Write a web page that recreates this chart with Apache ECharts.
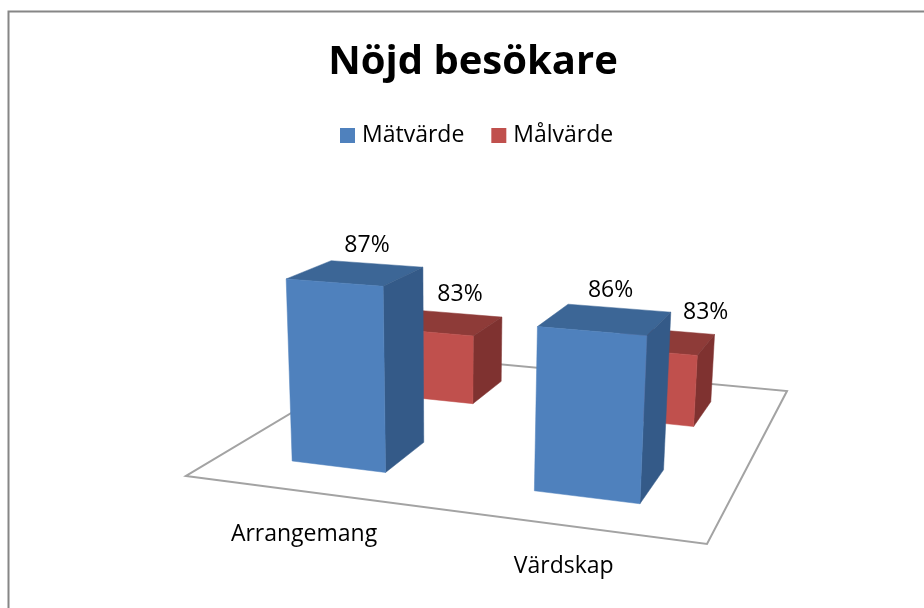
<!DOCTYPE html>
<html>
<head>
<meta charset="utf-8">
<title>Nöjd besökare</title>
<script src="https://cdn.jsdelivr.net/npm/echarts@6/dist/echarts.min.js"></script>
<style>
html,body{margin:0;padding:0;background:#fff}
#main{width:924px;height:608px}
</style>
</head>
<body>
<div id="main"></div>
<script>
const categories = ['Arrangemang', 'Värdskap'];
const matvarde = [0.87, 0.86];
const malvarde = [0.83, 0.83];
const axisMin = 0.8;
const axisMax = 0.9;

const fontName = '"Open Sans", sans-serif';

// floor corners on screen: front left, front right, back right, back left
const floor = [[186, 476], [707, 544], [787, 391], [390, 354]];
// where vertical edges meet, and how much one full axis height counts
const vanish = [447, 5170];
const rise = -0.0549;

// square to quad
function makeProjection(q) {
    const dx1 = q[1][0] - q[2][0], dx2 = q[3][0] - q[2][0], sx = q[0][0] - q[1][0] + q[2][0] - q[3][0];
    const dy1 = q[1][1] - q[2][1], dy2 = q[3][1] - q[2][1], sy = q[0][1] - q[1][1] + q[2][1] - q[3][1];
    const det = dx1 * dy2 - dx2 * dy1;
    const g = (sx * dy2 - dx2 * sy) / det;
    const h = (dx1 * sy - sx * dy1) / det;
    const a = q[1][0] - q[0][0] + g * q[1][0];
    const b = q[3][0] - q[0][0] + h * q[3][0];
    const d = q[1][1] - q[0][1] + g * q[1][1];
    const e = q[3][1] - q[0][1] + h * q[3][1];
    return function (u, v, up) {
        const k = rise * up;
        const w = g * u + h * v + 1 + k;
        return [
            (a * u + b * v + q[0][0] + k * vanish[0]) / w,
            (d * u + e * v + q[0][1] + k * vanish[1]) / w
        ];
    };
}
const project = makeProjection(floor);

// grid position -> share of the floor width / of the axis height
function toFloor(params, pt) {
    const cs = params.coordSys;
    return [(pt[0] - cs.x) / cs.width, (cs.y + cs.height - pt[1]) / cs.height];
}

function barRender(depth, colors, nudge) {
    return function (params, api) {
        const val = api.value(1);
        const p = toFloor(params, api.coord([api.value(0), val]));
        const half = api.size([1, 0])[0] / params.coordSys.width * 0.4 / 2;
        const u0 = p[0] - half, u1 = p[0] + half;
        const v0 = depth - 0.1, v1 = depth + 0.1;
        const up = p[1];
        const poly = function (pts, fill) {
            return {
                type: 'polygon',
                shape: { points: pts.map(function (o) { return project(o[0], o[1], o[2]); }) },
                style: { fill: fill, stroke: fill, lineWidth: 0.5 }
            };
        };
        const top = project(p[0], depth, up);
        const off = nudge[params.dataIndex];
        return {
            type: 'group',
            children: [
                poly([[u0, v0, up], [u1, v0, up], [u1, v1, up], [u0, v1, up]], colors.top),
                poly([[u1, v0, 0], [u1, v1, 0], [u1, v1, up], [u1, v0, up]], colors.side),
                poly([[u0, v0, 0], [u1, v0, 0], [u1, v0, up], [u0, v0, up]], colors.front),
                {
                    type: 'text',
                    style: {
                        text: Math.round(val * 100) + '%',
                        x: top[0] + off[0],
                        y: top[1] + off[1],
                        align: 'center',
                        verticalAlign: 'middle',
                        fill: '#000',
                        font: '23px ' + fontName
                    }
                }
            ]
        };
    };
}

const catLabelDrop = [43, 41];

function floorRender(params, api) {
    const p = toFloor(params, api.coord([api.value(0), axisMin]));
    const at = project(p[0], 0, 0);
    const children = [{
        type: 'text',
        style: {
            text: categories[params.dataIndex],
            x: at[0],
            y: at[1] + catLabelDrop[params.dataIndex],
            align: 'center',
            verticalAlign: 'middle',
            fill: '#000',
            font: '23px ' + fontName
        }
    }];
    if (params.dataIndex === 0) {
        children.unshift({
            type: 'polygon',
            shape: { points: [project(0, 0, 0), project(1, 0, 0), project(1, 1, 0), project(0, 1, 0)] },
            style: { fill: '#fff', stroke: '#a3a3a3', lineWidth: 2 }
        });
    }
    return { type: 'group', children: children };
}

const myChart = echarts.init(document.getElementById('main'));

const option = {
    animation: false,
    backgroundColor: '#fff',
    graphic: [{
        type: 'rect',
        silent: true,
        z: -1,
        shape: { x: 8.5, y: 11.5, width: 1000, height: 1000 },
        style: { fill: 'none', stroke: '#868686', lineWidth: 2 }
    }],
    title: {
        text: 'Nöjd besökare',
        left: 468,
        top: 38,
        textAlign: 'center',
        textStyle: { fontFamily: fontName, fontSize: 40, fontWeight: 'bold', color: '#000' }
    },
    legend: {
        data: ['Mätvärde', 'Målvärde'],
        left: 335,
        top: 119,
        icon: 'rect',
        itemWidth: 15,
        itemHeight: 15,
        itemGap: 27,
        textStyle: { fontFamily: fontName, fontSize: 23, color: '#000', padding: [0, 0, 0, 2] }
    },
    grid: { left: 186, top: 100, width: 520, height: 370 },
    xAxis: { type: 'category', data: categories, show: false },
    yAxis: { type: 'value', min: axisMin, max: axisMax, show: false },
    series: [
        {
            name: 'golv',
            type: 'custom',
            z: 1,
            silent: true,
            renderItem: floorRender,
            data: categories.map(function (c, i) { return [i, axisMin]; })
        },
        {
            name: 'Mätvärde',
            type: 'custom',
            z: 3,
            itemStyle: { color: '#4f81bd' },
            renderItem: barRender(0.25, { front: '#4f81bd', side: '#345a88', top: '#3c6696' }, [[11, -27], [5, -29]]),
            data: matvarde.map(function (v, i) { return [i, v]; })
        },
        {
            name: 'Målvärde',
            type: 'custom',
            z: 2,
            itemStyle: { color: '#c0504d' },
            renderItem: barRender(0.75, { front: '#c0504d', side: '#7f3230', top: '#8e3b38' }, [[13, -28], [45, -28]]),
            data: malvarde.map(function (v, i) { return [i, v]; })
        }
    ]
};

myChart.setOption(option);
</script>
</body>
</html>
